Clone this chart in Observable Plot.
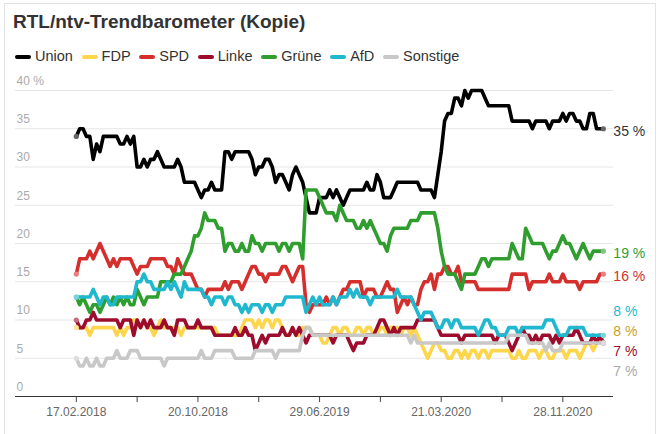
<!DOCTYPE html>
<html>
<head>
<meta charset="utf-8">
<script src="https://cdn.jsdelivr.net/npm/d3@7"></script>
<script src="https://cdn.jsdelivr.net/npm/@observablehq/plot@0.6"></script>
<style>
  html, body { margin: 0; padding: 0; background: #fff; }
  #card { position: relative; width: 661px; height: 434px; overflow: hidden; background: #fff;
          font-family: "Liberation Sans", Arial, Helvetica, sans-serif; }
  #frame { position: absolute; left: 4px; top: 3px; width: 652px; height: 440px; border: 1px solid #e3e3e3; box-sizing: border-box; }
  #title { position: absolute; left: 13px; top: 11px; font-size: 19px; font-weight: bold; color: #333; line-height: 22px; white-space: nowrap; }
  #legend { position: absolute; left: 15px; top: 48px; display: flex; align-items: center; font-size: 14.5px; color: #333; line-height: 17px; white-space: nowrap; }
  .item { display: flex; align-items: center; margin-right: 8.7px; }
  .swatch { width: 16px; height: 4px; border-radius: 2px; margin-right: 4px; }
  #chart { position: absolute; left: 0; top: 70px; }
</style>
</head>
<body>
<div id="card">
  <div id="frame"></div>
  <div id="title">RTL/ntv-Trendbarometer (Kopie)</div>
  <div id="legend"></div>
  <div id="chart"></div>
</div>
<script>
// ---------- data (weekly polls, index 0 = 17.02.2018) ----------
const parties = ["Union", "FDP", "SPD", "Linke", "Grüne", "AfD", "Sonstige"];
const colors  = ["#000000", "#fdd64c", "#d42f2c", "#9d0b2d", "#2f9e2f", "#1fb8cf", "#c8c8c8"];
const labelColors = ["#333333", "#c9a21f", "#d42f2c", "#9d0b2d", "#2f9e2f", "#1fb8cf", "#aaaaaa"];

const union = [34,35,35,34,34,31,33,32,34,34, 34,34,34,33,33,34,33,34,30,30,
  31,30,31,31,32,31,30,30,30,30, 31,30,28,28,28,28,27,26,27,27,
  28,27,27,27,32,32,31,32,32,32, 32,32,31,29,30,30,31,31,30,28,
  29,29,28,27,29,30,29,28,26,24, 24,24,26,26,26,27,26,27,26,25,
  26,27,27,27,27,27,28,27,27,29, 28,26,26,26,27,28,28,28,28,28,
  28,28,27,27,27,27,26,29,32,36, 37,37,39,39,38,40,39,40,40,40,
  40,39,38,38,38,38,38,38,38,36, 36,36,36,36,36,35,36,36,36,36,
  35,36,36,36,37,36,37,37,36,36, 35,35,37,37,35,35,35];

const fdp = [9,9,9,9,8,9,9,9,9,9, 9,9,8,9,8,9,9,10,10,9,
  10,9,9,8,9,10,9,9,9,9, 9,8,9,9,9,9,9,9,9,9,
  9,9,8,8,8,8,8,8,8,9, 10,10,10,9,10,9,10,10,9,10,
  10,9,8,8,9,8,8,9,9,9, 8,8,8,7,7,8,9,9,8,9,
  9,8,8,9,9,8,9,9,8,8, 9,9,8,9,9,9,8,9,9,8,
  9,8,7,6,5,6,7,7,6,6, 5,5,6,6,5,6,5,6,6,5,
  6,6,5,6,6,6,6,6,6,5, 5,6,5,5,6,6,6,5,6,6,
  5,5,6,6,6,5,6,6,6,5, 6,7,7,6,7,8,8];

const spd = [16,18,18,18,19,18,19,20,19,18, 17,18,17,18,18,18,18,17,16,17,
  17,17,18,18,18,18,18,17,17,16, 18,17,16,16,16,15,14,14,13,14,
  14,14,14,14,15,14,15,15,15,14, 15,16,17,17,16,16,15,16,16,16,
  16,17,17,16,15,16,17,17,12,11, 12,12,12,12,13,12,13,12,13,14,
  14,15,15,15,15,13,14,14,14,13, 13,14,15,14,14,11,12,13,12,13,
  12,12,14,15,15,16,14,16,16,17, 17,16,16,17,15,15,15,15,15,14,
  14,14,14,14,14,14,14,14,14,16, 16,16,16,16,14,15,15,15,15,15,
  16,15,15,15,16,15,15,15,15,14, 15,15,15,15,15,16,16];

const linke = [10,9,9,10,10,11,10,10,10,10, 10,10,10,9,10,10,10,8,10,9,
  10,9,10,9,9,9,10,9,9,8, 10,10,10,9,9,9,10,9,9,9,
  9,8,8,8,8,8,8,9,8,8, 9,8,8,6,7,8,7,8,8,8,
  8,9,8,8,9,8,9,8,7,8, 8,8,8,8,8,8,7,8,8,8,
  8,7,6,7,7,7,8,8,8,9, 10,10,9,8,9,8,9,9,9,9,
  9,10,10,10,10,10,10,9,8,8, 8,8,8,8,7,8,8,8,8,8,
  8,8,8,8,7,8,8,8,7,6, 7,8,9,8,8,7,8,7,8,8,
  8,7,8,7,8,8,8,8,9,8, 7,7,7,8,7,8,7];

const gruene = [13,12,13,12,11,12,12,11,12,13, 12,13,12,13,12,13,12,12,14,13,
  12,13,13,13,13,15,15,15,15,16, 16,16,17,18,19,21,21,22,24,23,
  23,23,22,22,19,20,20,19,19,20, 19,19,21,20,20,19,20,20,20,20,
  19,20,20,19,20,20,20,18,27,27, 27,27,26,25,24,24,24,23,25,24,
  23,23,23,22,22,23,22,23,22,21, 20,20,19,21,22,22,22,22,22,23,
  23,23,24,24,24,24,24,22,19,17, 16,16,16,15,14,16,16,16,16,17,
  18,18,17,18,18,18,18,18,18,20, 19,18,18,22,21,20,20,20,20,19,
  18,19,19,20,21,20,20,19,18,19, 20,19,18,19,19,19,19];

const afd = [13,13,13,13,13,14,13,12,13,13, 12,12,13,13,13,13,13,13,15,15,
  16,15,15,14,14,14,14,15,14,15, 14,13,15,14,14,14,14,14,13,13,
  12,13,13,13,12,13,13,12,12,11, 12,11,12,12,12,11,12,12,11,12,
  12,12,13,13,13,13,13,13,11,12, 13,12,13,12,12,12,13,12,13,13,
  13,14,13,14,13,13,13,12,13,13, 13,13,13,13,13,14,13,13,13,13,
  12,11,10,11,11,11,10,9,9,10, 10,9,10,10,9,9,9,9,9,8,
  9,10,10,9,9,8,8,8,9,9, 9,8,9,9,9,9,9,9,9,10,
  10,10,9,8,8,8,9,9,9,9, 9,8,8,8,8,8,8];

const sonstige = [5,4,4,5,4,4,5,4,4,5, 5,5,6,5,5,5,6,6,6,5,
  5,5,5,5,5,5,4,5,5,5, 5,5,5,5,5,5,5,6,5,5,
  5,6,6,6,6,6,6,5,5,5, 5,5,5,6,6,6,6,6,6,5,
  6,6,6,6,6,6,6,8,9,9, 8,8,8,8,8,8,8,8,8,8,
  8,8,8,8,8,8,8,8,8,8, 8,8,8,8,8,8,8,8,8,7,
  8,7,7,7,7,7,7,7,7,7, 7,7,7,7,7,7,7,7,7,7,
  7,7,7,7,7,7,7,7,8,8, 8,8,8,8,7,7,7,7,7,6,
  7,6,6,6,7,7,7,7,7,7, 7,7,7,7,7,7,7];

const series = [union, fdp, spd, linke, gruene, afd, sonstige];

// x axis: index positions of ticks and their date labels
const xTicks = [0, 18, 36, 54, 72, 90, 108, 126, 144];
const xTickLabelIdx = [0, 36, 72, 108, 144];
const xTickLabels = ["17.02.2018", "20.10.2018", "29.06.2019", "21.03.2020", "28.11.2020"];
const yTicks = [0, 5, 10, 15, 20, 25, 30, 35, 40];
const yTickLabels = ["0", "5", "10", "15", "20", "25", "30", "35", "40 %"];

// ---------- legend ----------
const legend = document.getElementById("legend");
parties.forEach((p, k) => {
  const it = document.createElement("div");
  it.className = "item";
  it.innerHTML = `<span class="swatch" style="background:${colors[k]}"></span><span>${p}</span>`;
  legend.appendChild(it);
});

// ---------- long data ----------
const rows = parties.map((p, k) => series[k].map((v, i) => ({party: p, i, v})));
const last = series[0].length - 1;

// end labels with simple vertical dodge
const gap = 2.6;
const labels = parties.map((p, k) => {
  const s = series[k];
  return {party: p, k, v: s[last], tie: d3.mean(s.slice(-3)), text: s[last] + " %"};
});
(function dodge(items) {
  const sorted = items.slice().sort((a, b) => (b.v - a.v) || (b.tie - a.tie));
  let clusters = sorted.map(d => ({items: [d], center: d.v}));
  let merged = true;
  while (merged) {
    merged = false;
    for (let c = 0; c < clusters.length - 1; c++) {
      const a = clusters[c], b = clusters[c + 1];
      const aBottom = a.center - (a.items.length - 1) / 2 * gap;
      const bTop = b.center + (b.items.length - 1) / 2 * gap;
      if (aBottom - bTop < gap) {
        const its = a.items.concat(b.items);
        clusters.splice(c, 2, {items: its, center: d3.mean(its, d => d.v)});
        merged = true;
        break;
      }
    }
  }
  clusters.forEach(cl => cl.items.forEach((d, j) => d.pos = cl.center + ((cl.items.length - 1) / 2 - j) * gap));
})(labels);

const lighten = c => d3.interpolateRgb(c, "#ffffff")(0.4);

const marks = [
  Plot.ruleY(yTicks.filter(d => d > 0), {stroke: "#e6e6e6", strokeWidth: 1}),
  Plot.text(yTicks, {y: d => d, frameAnchor: "left", text: (d, i) => yTickLabels[i],
    textAnchor: "start", dx: 1, dy: -9.5, fill: "#aaaaaa", fontSize: 12}),
  Plot.axisX({ticks: xTicks, tickSize: 6, tickPadding: 5, stroke: "#444", fill: "#666", fontSize: 12, label: null,
    tickFormat: d => { const j = xTickLabelIdx.indexOf(d); return j >= 0 ? xTickLabels[j] : ""; }}),
  Plot.ruleY([0], {stroke: "#333", strokeWidth: 1})
];
parties.forEach((p, k) => {
  marks.push(Plot.lineY(rows[k], {x: "i", y: "v", stroke: colors[k], strokeWidth: 3.6,
    strokeLinejoin: "round", strokeLinecap: "round"}));
});
parties.forEach((p, k) => {
  const ends = [rows[k][0], rows[k][last]];
  marks.push(Plot.dot(ends, {x: "i", y: "v", r: 2.6, fill: lighten(colors[k]), stroke: "none"}));
});
labels.forEach(l => {
  marks.push(Plot.text([l], {x: () => last, y: "pos", text: "text", textAnchor: "start",
    dx: 10, dy: 2.5, fill: labelColors[l.k], fontSize: 14}));
});

const chart = Plot.plot({
  width: 661,
  height: 362,
  marginTop: 20,
  marginBottom: 36,
  marginLeft: 15,
  marginRight: 48,
  x: {domain: [-18, 159], axis: null, label: null},
  y: {domain: [0, 40], axis: null, label: null},
  style: {fontFamily: "'Liberation Sans', Arial, Helvetica, sans-serif", background: "transparent", overflow: "visible"},
  marks
});
document.getElementById("chart").appendChild(chart);
</script>
</body>
</html>
